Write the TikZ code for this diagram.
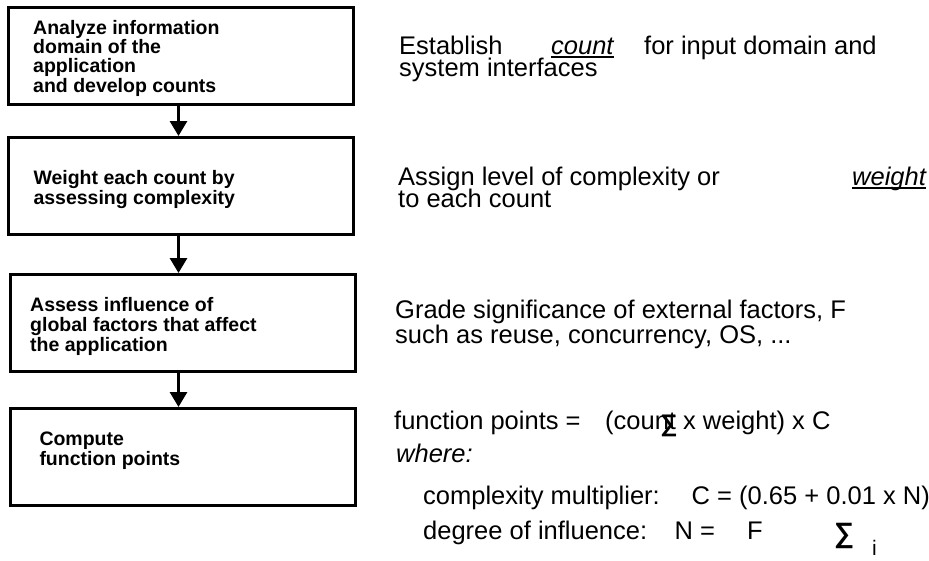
\documentclass[tikz,border=0pt]{standalone}
\usepackage{fontspec}
\setmainfont{Liberation Sans}
\usetikzlibrary{arrows.meta}
\begin{document}
\begin{tikzpicture}[x=1pt,y=-1pt,
  stepbox/.style={draw=black, line width=3pt, minimum width=345pt, minimum height=97pt, inner sep=0pt},
  boxtxt/.style={anchor=base west, inner sep=0pt, font=\fontsize{19.5}{19.5}\selectfont\bfseries},
  rtxt/.style={anchor=base west, inner sep=0pt, font=\fontsize{25.5}{25.5}\selectfont},
  itxt/.style={rtxt, font=\fontsize{25.5}{25.5}\selectfont\itshape},
  sigma/.style={inner sep=0pt, font=\fontsize{28}{28}\selectfont\bfseries},
  uline/.style={line width=1.6pt},
  flow/.style={line width=3pt, -{Triangle[width=17pt,length=15pt]}},
  ]
\useasboundingbox (0,0) rectangle (929,560);

% boxes
\node[stepbox] (box1) at (180.5,56) {};
\node[stepbox] (box2) at (181,186) {};
\node[stepbox] (box3) at (182.5,323) {};
\node[stepbox] (box4) at (183,457) {};

% arrows
\draw[flow] ([xshift=-2pt]box1.south) -- ([xshift=-2pt]box1.south |- box2.north);
\draw[flow] ([xshift=-2.5pt]box2.south) -- ([xshift=-2.5pt]box2.south |- box3.north);
\draw[flow] ([xshift=-4pt]box3.south) -- ([xshift=-4pt]box3.south |- box4.north);

% box texts
\node[boxtxt] (b1a) at (33,34.3) {Analyze information};
\node[boxtxt] (b1b) at (33,53.5) {domain of the};
\node[boxtxt] (b1c) at (33,72.7) {application};
\node[boxtxt] (b1d) at (33,92) {and develop counts};
\node[boxtxt] (b2a) at (33.3,184.3) {Weight each count by};
\node[boxtxt] (b2b) at (33.3,204) {assessing complexity};
\node[boxtxt] (b3a) at (30,311.7) {Assess influence of};
\node[boxtxt] (b3b) at (30,331.5) {global factors that affect};
\node[boxtxt] (b3c) at (30,351) {the application};
\node[boxtxt] (b4a) at (39.3,445) {Compute};
\node[boxtxt] (b4b) at (39.3,465) {function points};

% right texts
\node[rtxt] (t1a) at (399,54) {Establish};
\node[itxt] (t1cnt) at (551,54) {count};
\draw[uline] ([yshift=-3pt]t1cnt.base west) -- ([yshift=-3pt]t1cnt.base east);
\node[rtxt] (t1b) at (644,54) {for input domain and};
\node[rtxt] (t1c) at (399,76) {system interfaces};

\node[rtxt] (t2a) at (398,185) {Assign level of complexity or};
\node[itxt] (t2w) at (852,185) {weight};
\draw[uline] ([yshift=-3pt]t2w.base west) -- ([yshift=-3pt]t2w.base east);
\node[rtxt] (t2b) at (398,207) {to each count};

\node[rtxt] (t3a) at (395,318) {Grade significance of external factors, F};
\node[rtxt] (t3b) at (395,343) {such as reuse, concurrency, OS, ...};

\node[rtxt] (t4a) at (394,429) {function points =};
\node[rtxt] (t4b) at (605,429) {(count x weight) x C};
\node[sigma, font=\fontsize{24}{24}\selectfont\bfseries] (s1) at ([xshift=64pt,yshift=3pt]t4b.base west) {∑};
\node[itxt] (t4c) at (396,462) {where:};
\node[rtxt] (t4d) at (423,504) {complexity multiplier:};
\node[rtxt] (t4e) at (691.5,504) {C = (0.65 + 0.01 x N)};
\node[rtxt] (t4f) at (423,539) {degree of influence:};
\node[rtxt] (t4g) at (674.5,539) {N =};
\node[rtxt] (t4h) at (747,539) {F};
\node[sigma] (s2) at (844,536) {∑};
\node[anchor=base west, inner sep=0pt, font=\fontsize{21}{21}\selectfont] (t4i) at (872,555) {i};
\end{tikzpicture}
\end{document}
